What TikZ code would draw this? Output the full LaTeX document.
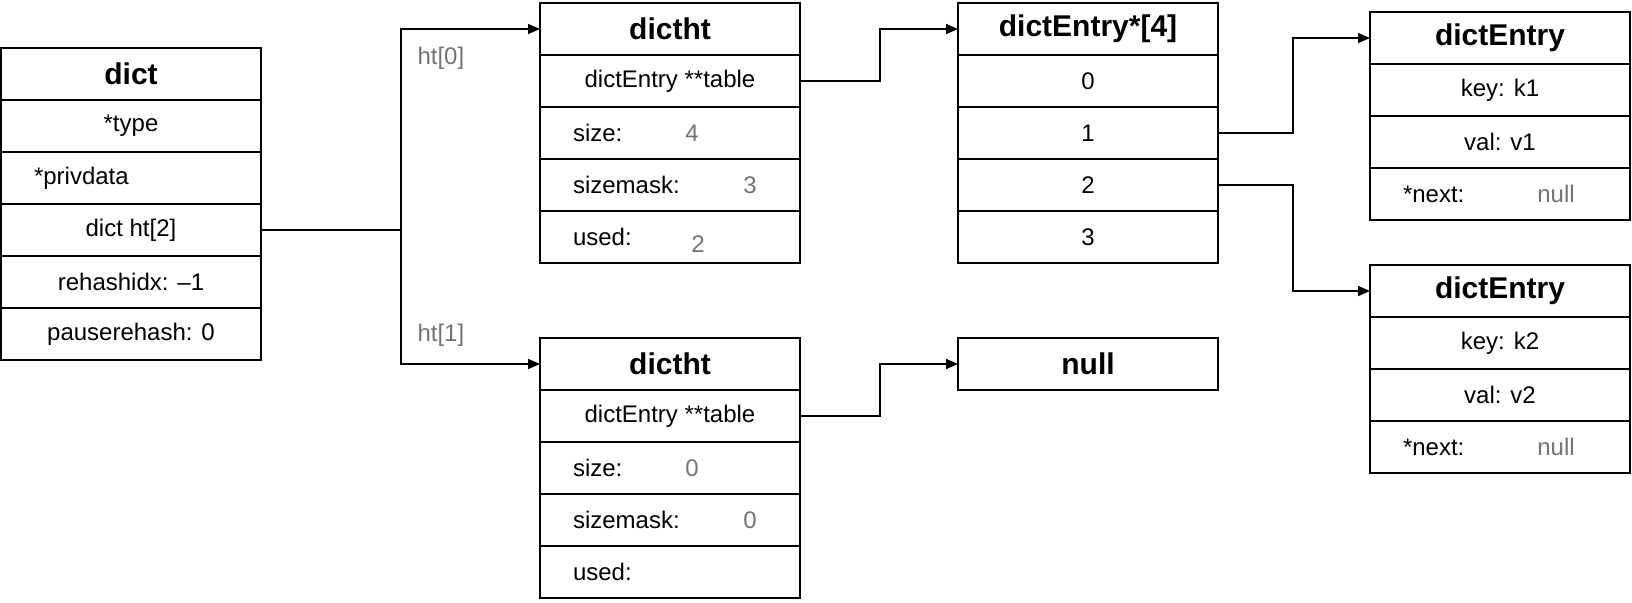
\documentclass[tikz,border=0pt]{standalone}
\usepackage{fontspec}
\setmainfont{Liberation Sans}
\usepackage{xcolor}
\usetikzlibrary{shapes,arrows,arrows.meta,positioning}

\definecolor{valgray}{gray}{0.45}

\begin{document}
\begin{tikzpicture}[x=1pt,y=1pt]
    \tikzstyle{cell} = [rectangle, draw, line width=2.8pt, minimum width=260pt, minimum height=52pt, inner sep=0pt, outer sep=0pt, font=\fontsize{24}{28}\selectfont]
    \tikzstyle{head} = [cell, font=\fontsize{30}{36}\selectfont\bfseries]
    \tikzstyle{field} = [cell, inner xsep=33pt, text width=194pt, align=left]
    \tikzstyle{value} = [font=\fontsize{24}{28}\selectfont, text=valgray]
    \tikzstyle{line} = [line width=1.6pt]
    \tikzstyle{arrow} = [line width=1.6pt,->,>={Triangle[length=12pt,width=10pt]}]

    \useasboundingbox (0,0) rectangle (1632,-602);

    % dict
    \node [head, anchor=north west] (dict) at (1,-48) {dict};
    \node [cell, below=0pt of dict] (dtype) {*type};
    \node [field, below=0pt of dtype] (dpriv) {*privdata};
    \node [cell, below=0pt of dpriv] (dht) {dict ht[2]};
    \node [cell, below=0pt of dht] (drehash) {rehashidx: –1};
    \node [cell, below=0pt of drehash] (dpause) {pauserehash: 0};

    % dictht ht[0]
    \node [head, anchor=north west] (ht0) at (540,-3) {dictht};
    \node [cell, below=0pt of ht0] (ht0tab) {dictEntry **table};
    \node [field, below=0pt of ht0tab] (ht0size) {size:};
    \node [field, below=0pt of ht0size] (ht0mask) {sizemask:};
    \node [field, below=0pt of ht0mask] (ht0used) {used:};
    \node [value] (ht0sizev) at ([xshift=152pt]ht0size.west) {4};
    \node [value] (ht0maskv) at ([xshift=210pt]ht0mask.west) {3};
    \node [value] (ht0usedv) at ([xshift=158pt,yshift=-7pt]ht0used.west) {2};

    % dictht ht[1]
    \node [head, anchor=north west] (ht1) at (540,-338) {dictht};
    \node [cell, below=0pt of ht1] (ht1tab) {dictEntry **table};
    \node [field, below=0pt of ht1tab] (ht1size) {size:};
    \node [field, below=0pt of ht1size] (ht1mask) {sizemask:};
    \node [field, below=0pt of ht1mask] (ht1used) {used:};
    \node [value] (ht1sizev) at ([xshift=152pt]ht1size.west) {0};
    \node [value] (ht1maskv) at ([xshift=210pt]ht1mask.west) {0};

    % table
    \node [head, anchor=north west] (arr) at (958,-3) {dictEntry*[4]};
    \node [cell, below=0pt of arr] (slot0) {0};
    \node [cell, below=0pt of slot0] (slot1) {1};
    \node [cell, below=0pt of slot1] (slot2) {2};
    \node [cell, below=0pt of slot2] (slot3) {3};

    \node [head, anchor=north west] (nullbox) at (958,-338) {null};

    % entries
    \node [head, anchor=north west] (e1) at (1370,-12) {dictEntry};
    \node [cell, below=0pt of e1] (e1key) {key: k1};
    \node [cell, below=0pt of e1key] (e1val) {val: v1};
    \node [field, below=0pt of e1val] (e1next) {*next:};
    \node [value] (e1nextv) at ([xshift=186pt]e1next.west) {null};

    \node [head, anchor=north west] (e2) at (1370,-265) {dictEntry};
    \node [cell, below=0pt of e2] (e2key) {key: k2};
    \node [cell, below=0pt of e2key] (e2val) {val: v2};
    \node [field, below=0pt of e2val] (e2next) {*next:};
    \node [value] (e2nextv) at ([xshift=186pt]e2next.west) {null};

    % connectors
    \coordinate (fork) at (401,-230);
    \draw [line] (dht.east) -- (fork);
    \draw [arrow] (fork) |- (ht0.west);
    \draw [arrow] (fork) |- (ht1.west);
    \node [value, anchor=west] (lab0) at (414,-58) {ht[0]};
    \node [value, anchor=west] (lab1) at (414,-335) {ht[1]};

    \draw [arrow] (ht0tab.east) -- ++(80,0) |- (arr.west);
    \draw [arrow] (ht1tab.east) -- ++(80,0) |- (nullbox.west);
    \draw [arrow] (slot1.east) -- ++(75,0) |- (e1.west);
    \draw [arrow] (slot2.east) -- ++(75,0) |- (e2.west);
\end{tikzpicture}
\end{document}
